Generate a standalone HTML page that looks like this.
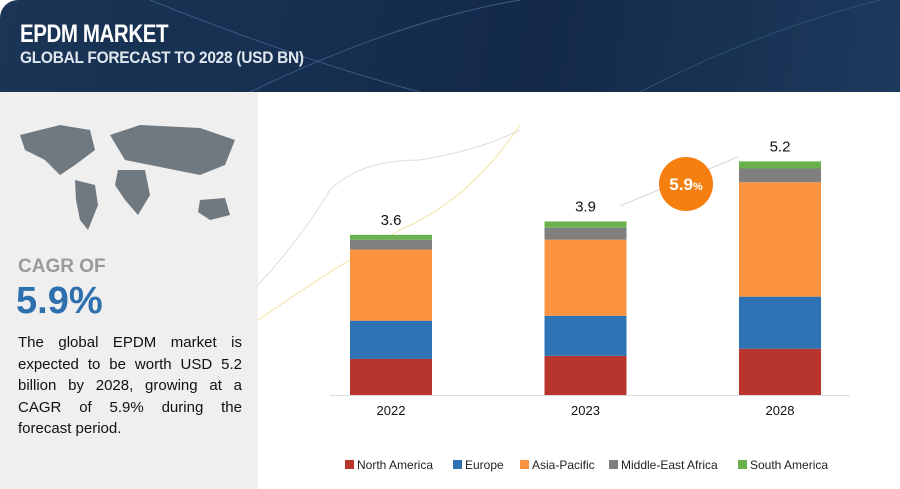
<!DOCTYPE html>
<html><head><meta charset="utf-8"><style>
body{margin:0;width:900px;height:489px;overflow:hidden;font-family:"Liberation Sans",sans-serif;background:#fff;position:relative}
#hdr{position:absolute;left:0;top:0;width:900px;height:92px;background:linear-gradient(100deg,#1a3556,#14294a 60%,#1c3a5c);border-top-left-radius:18px}
#t1{position:absolute;left:20px;top:20px;color:#fff;font-weight:bold;font-size:25px;letter-spacing:-0.5px;transform:scaleX(0.82);transform-origin:0 0;white-space:nowrap}
#t2{position:absolute;left:20px;top:48px;color:#dfe6ee;font-weight:bold;font-size:17px;letter-spacing:-0.3px;transform:scaleX(0.91);transform-origin:0 0;white-space:nowrap}
#left{position:absolute;left:0;top:92px;width:258px;height:397px;background:#efefef}
#cagr1{position:absolute;left:18px;top:256px;font-size:19px;font-weight:bold;color:#9a9a9a}
#cagr2{position:absolute;left:16px;top:280px;font-size:38px;font-weight:bold;color:#2e6fad}
#desc{position:absolute;left:18px;top:332px;width:224px;font-size:15px;line-height:21.5px;color:#111;text-align:justify}
svg{position:absolute;left:0;top:0}
</style></head><body>
<div id="hdr">
<svg width="900" height="92"><path d="M150 0 Q300 60 420 92" stroke="#3a5a80" fill="none"/><path d="M250 92 Q400 20 520 0" stroke="#3a5a80" fill="none"/><path d="M640 92 Q760 30 880 0" stroke="#2f5070" fill="none"/></svg>
<div id="t1">EPDM MARKET</div>
<div id="t2">GLOBAL FORECAST TO 2028 (USD BN)</div>
</div>
<div id="left"></div>
<svg width="260" height="260">
<g fill="#707880"><path d="M20 135 L60 125 L90 130 L95 150 L75 165 L60 175 L45 160 L25 150Z"/><path d="M75 180 L95 185 L98 205 L88 230 L80 220 L76 200Z"/><path d="M110 135 L140 125 L200 128 L235 140 L225 165 L200 175 L175 170 L150 165 L125 160Z"/><path d="M118 170 L145 170 L150 195 L138 215 L125 200 L115 185Z"/><path d="M200 200 L225 198 L230 215 L210 220 L198 212Z"/></g></svg>
<div id="cagr1">CAGR OF</div>
<div id="cagr2">5.9%</div>
<div id="desc">The global EPDM market is expected to be worth USD 5.2 billion by 2028, growing at a CAGR of 5.9% during the forecast period.</div>
<svg id="chart" width="900" height="489">
<path d="M258 285 Q300 240 330 190 Q360 160 420 160 Q480 150 520 130" stroke="#ddd" fill="none"/>
<path d="M258 320 Q330 270 400 230 Q470 200 520 125" stroke="#f3e3a0" fill="none"/>
<line x1="620" y1="206" x2="738" y2="157" stroke="#d8d8d8" stroke-width="1.2"/>
<circle cx="686" cy="184" r="27" fill="#f57f0f"/>
<text x="686" y="190" text-anchor="middle" fill="#fff" font-size="17" font-weight="bold">5.9<tspan font-size="11">%</tspan></text>
<g id="bars"></g><g id="legend"></g>
</svg>
<script>
const years=["2022","2023","2028"];
const totals=["3.6","3.9","5.2"];
const seriesNames=["North America","Europe","Asia-Pacific","Middle-East Africa","South America"];
const northAmerica=[0.81,0.88,1.04];
const europe=[0.86,0.9,1.17];
const asiaPacific=[1.6,1.71,2.57];
const middleEastAfrica=[0.22,0.27,0.31];
const southAmerica=[0.11,0.14,0.16];
const colors=["#b8352e","#2f73b5","#fb9340","#7f7f7f","#6ab04c"];
const series=[northAmerica,europe,asiaPacific,middleEastAfrica,southAmerica];
const ns="http://www.w3.org/2000/svg";
const base=395,scale=44.5;
const y=v=>base-v*scale;
const xc=i=>391+i*194.5;
const g=document.getElementById('bars');
function mk(t,a){const e=document.createElementNS(ns,t);for(const k in a)e.setAttribute(k,a[k]);return e;}
years.forEach((yr,i)=>{let cum=0;
series.forEach((s,j)=>{const r=mk('rect',{x:xc(i)-41,y:y(cum+s[i]),width:82,height:s[i]*scale,fill:colors[j]});

g.appendChild(r);cum+=s[i];});
const t=mk('text',{x:xc(i),y:y(cum)-10,'text-anchor':'middle','font-size':15,fill:'#111'});t.textContent=totals[i];

g.appendChild(t);
const l=mk('text',{x:xc(i),y:415,'text-anchor':'middle','font-size':13,fill:'#111'});l.textContent=yr;

g.appendChild(l);});
g.appendChild(mk('line',{x1:330,y1:395.5,x2:850,y2:395.5,stroke:'#ddd'}));
const lx=[345,453,520,609,738];const lg=document.getElementById('legend');
seriesNames.forEach((n,j)=>{const r=mk('rect',{x:lx[j],y:460,width:9,height:9,fill:colors[j]});

lg.appendChild(r);
const t=mk('text',{x:lx[j]+12,y:469,'font-size':12,fill:'#222'});t.textContent=n;

lg.appendChild(t);});
</script>
</body></html>
